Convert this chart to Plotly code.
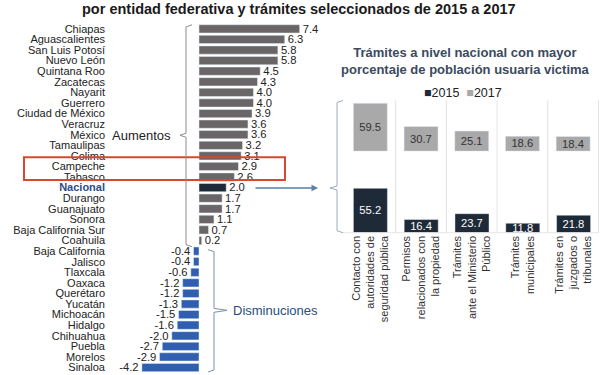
import plotly.graph_objects as go

# ---------------- data ----------------
estados = ["Chiapas", "Aguascalientes", "San Luis Potosí", "Nuevo León", "Quintana Roo",
           "Zacatecas", "Nayarit", "Guerrero", "Ciudad de México", "Veracruz", "México",
           "Tamaulipas", "Colima", "Campeche", "Tabasco", "Nacional", "Durango",
           "Guanajuato", "Sonora", "Baja California Sur", "Coahuila", "Baja California",
           "Jalisco", "Tlaxcala", "Oaxaca", "Querétaro", "Yucatán", "Michoacán",
           "Hidalgo", "Chihuahua", "Puebla", "Morelos", "Sinaloa"]
cambio = [7.4, 6.3, 5.8, 5.8, 4.5, 4.3, 4.0, 4.0, 3.9, 3.6, 3.6, 3.2, 3.1, 2.9, 2.6,
          2.0, 1.7, 1.7, 1.1, 0.7, 0.2, -0.4, -0.4, -0.6, -1.2, -1.2, -1.3, -1.5,
          -1.6, -2.0, -2.7, -2.9, -4.2]

tramites = ["Contacto con<br>autoridades de<br>seguridad pública",
            "Permisos<br>relacionados con<br>la propiedad",
            "Trámites<br>ante el Ministerio<br>Público",
            "Trámites<br>municipales",
            "Trámites en<br>juzgados o<br>tribunales"]
v2015 = [55.2, 16.4, 23.7, 11.8, 21.8]
v2017 = [59.5, 30.7, 25.1, 18.6, 18.4]

# ---------------- helpers ----------------
W, H = 600, 375
def px(x):
    return x / W
def py(y):
    return 1 - y / H

FONT = "Liberation Sans, Arial, sans-serif"
GRAY = "#6a6667"
NAVY = "#1f2a38"
BLUE = "#2f5fae"
C2017 = "#a9a9a9"

colors = [NAVY if e == "Nacional" else (GRAY if v > 0 else BLUE)
          for e, v in zip(estados, cambio)]
ticktext = ["<b><span style='color:#2b4c8a'>Nacional</span></b>" if e == "Nacional" else e
            for e in estados]

fig = go.Figure()
fig.add_trace(go.Bar(
    y=estados, x=cambio, orientation="h", marker_color=colors, width=0.78,
    text=[f"{v:.1f}" for v in cambio], textposition="outside",
    textfont=dict(size=12, color="#222"), cliponaxis=False,
    xaxis="x", yaxis="y", hoverinfo="skip"))
fig.add_trace(go.Bar(
    x=tramites, y=v2017, marker_color=C2017, width=0.67,
    text=[f"{v:.1f}" for v in v2017], textposition="inside", insidetextanchor="middle",
    textfont=dict(size=12, color="#333"), xaxis="x2", yaxis="y2", hoverinfo="skip"))
fig.add_trace(go.Bar(
    x=tramites, y=v2015, marker_color=NAVY, width=0.67,
    text=[f"{v:.1f}" for v in v2015], textposition="inside", insidetextanchor="middle",
    textfont=dict(size=12, color="white"), xaxis="x3", yaxis="y3", hoverinfo="skip"))

xl0, xl1 = 110, 330
zero_px, scale = 199, 13.6
fig.update_layout(
    width=W, height=H, margin=dict(l=0, r=0, t=0, b=0),
    paper_bgcolor="white", plot_bgcolor="rgba(0,0,0,0)",
    showlegend=False, font=dict(family=FONT, color="#222"),
    uniformtext=dict(minsize=11, mode="show"),
    xaxis=dict(domain=[px(xl0), px(xl1)],
               range=[(xl0 - zero_px) / scale, (xl1 - zero_px) / scale],
               visible=False, anchor="y"),
    yaxis=dict(domain=[py(373.8), py(22.7)], autorange="reversed", anchor="x",
               tickmode="array", tickvals=estados, ticktext=ticktext,
               tickfont=dict(size=11, color="#222"), showgrid=False,
               showline=False, ticks="", ticklabelstandoff=4),
    xaxis2=dict(domain=[px(345), px(599)], anchor="y2", showticklabels=False,
                showgrid=False, showline=False, ticks=""),
    yaxis2=dict(domain=[py(151), py(100)], range=[0, 63], visible=False, anchor="x2"),
    xaxis3=dict(domain=[px(345), px(599)], anchor="y3", tickangle=-90,
                tickfont=dict(size=11, color="#333"), showgrid=False,
                showline=False, ticks=""),
    yaxis3=dict(domain=[py(233), py(182)], range=[0, 63], visible=False, anchor="x3"),
)

def path(points):
    return "M " + " L ".join(f"{px(x):.5f},{py(y):.5f}" for x, y in points)

shapes = []
# red highlight rectangle
shapes.append(dict(type="rect", xref="paper", yref="paper",
                   x0=px(24), x1=px(285), y0=py(180), y1=py(157),
                   line=dict(color="#d9472f", width=2)))
# brackets
br = dict(type="path", xref="paper", yref="paper", line=dict(color="#8c8c8c", width=1))
shapes.append(dict(br, path=path([(192, 24), (186, 26), (186, 133), (180, 135),
                                  (186, 137), (186, 245), (192, 247)])))
shapes.append(dict(br, path=path([(208, 250), (214, 252), (214, 309), (227, 311),
                                  (214, 313), (214, 371), (208, 373)]),
                   line=dict(color="#7d8fa8", width=1)))
shapes.append(dict(br, path=path([(343, 100), (337, 102), (337, 186), (330, 188),
                                  (337, 190), (337, 231), (343, 233)]),
                   line=dict(color="#9aaabd", width=1)))
# column separators on the right panel
for i in range(len(tramites)):
    shapes.append(dict(type="line", xref="x2", yref="paper", x0=i + 0.5, x1=i + 0.5,
                       y0=py(233), y1=py(100), line=dict(color="#e2e2e2", width=1)))
shapes.append(dict(type="line", xref="paper", yref="paper", x0=px(343), x1=px(599),
                   y0=py(233), y1=py(233), line=dict(color="#e6e6e6", width=1)))
fig.update_layout(shapes=shapes)

ann = [
    dict(text="<b>por entidad federativa y trámites seleccionados de 2015 a 2017</b>",
         x=px(299), y=py(8), font=dict(size=14.5, color="#1a1a1a")),
    dict(text="Aumentos", x=px(173), y=py(135), xanchor="right",
         font=dict(size=13, color="#222")),
    dict(text="Disminuciones", x=px(231), y=py(311), xanchor="left",
         font=dict(size=13, color="#2b4c7e")),
    dict(text="<b>Trámites a nivel nacional con mayor<br>porcentaje de población usuaria victima</b>",
         x=px(466), y=py(60), font=dict(size=13, color="#3b4a5e")),
    dict(text=f"<span style='color:{NAVY}'>■</span>2015  <span style='color:{C2017}'>■</span>2017",
         x=px(463), y=py(92), font=dict(size=12.5, color="#222")),
    # arrow from Nacional to right panel
    dict(text="", x=px(318), y=py(188), ax=-64, ay=0, showarrow=True,
         arrowhead=2, arrowsize=1, arrowwidth=1.3, arrowcolor="#5b7fa8"),
]
for a in ann:
    a.setdefault("xref", "paper")
    a.setdefault("yref", "paper")
    a.setdefault("showarrow", False)
    a.setdefault("xanchor", "center")
    a.setdefault("yanchor", "middle")
fig.update_layout(annotations=ann)

fig.write_html("out.html", config={"displayModeBar": False},
               post_script="document.body.style.margin='0';document.body.style.padding='0';")
